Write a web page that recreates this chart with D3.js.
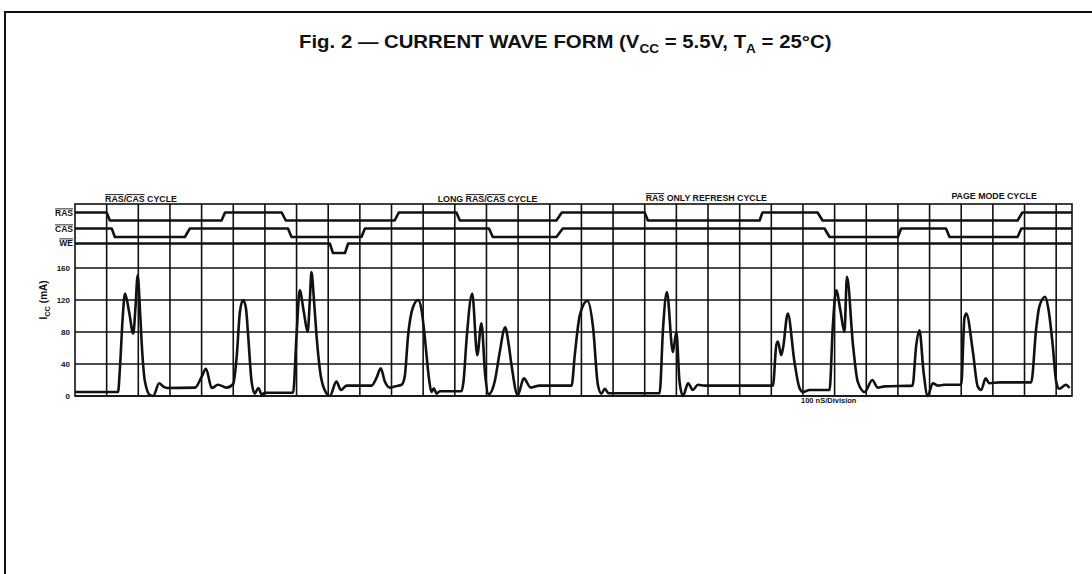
<!DOCTYPE html>
<html lang="en">
<head>
<meta charset="utf-8">
<style>
  body { margin: 0; background: #fff; }
  svg { display: block; background: #fff; }
  .lbl { font-family: "Liberation Sans", Arial, sans-serif; font-weight: bold; fill: #111; white-space: pre; }
</style>
<script src="https://d3js.org/d3.v7.min.js"></script>
</head>
<body>
<svg width="1092" height="574"></svg>
<script>
// time in ns (100 ns / division), current in mA
var yTicks = [0, 40, 80, 120, 160];
var signals = ["RAS", "CAS", "WE"];

// logic traces: [time, level]
var rasSteps = [[0,1],[100,1],[110,0],[463,0],[474,1],[653,1],[666,0],[1010,0],[1023,1],[1205,1],[1216,0],[1521,0],[1538,1],[1800,1],[1810,0],[2163,0],[2172,1],[2346,1],[2362,0],[2978,0],[2993,1],[3150,1]];
var casSteps = [[0,1],[116,1],[126,0],[347,0],[363,1],[673,1],[684,0],[905,0],[916,1],[1308,1],[1320,0],[1521,0],[1541,1],[2368,1],[2384,0],[2600,0],[2610,1],[2752,1],[2763,0],[2978,0],[2990,1],[3150,1]];
var weSteps = [[0,1],[805,1],[815,0],[853,0],[863,1],[3150,1]];

// supply current Icc: [time, mA]
var icc = [[0,5],[136,5],[142,35],[151,100],[158,128],[171,105],[184,78],[191,110],[198,151],[205,110],[211,64],[221,18],[237,1],[247,0],[266,16],[278,12],[290,10],[379,10.5],[400,24],[414,34],[432,10],[452,14],[479,10.5],[500,15],[511,50],[521,105],[531,120],[540,110],[547,76],[558,18],[568,3],[579,10],[590,2],[600,4],[689,4],[700,76],[710,132],[723,105],[735,80],[742,120],[747,155],[755,120],[763,76],[777,24],[795,3],[805,0],[826,18],[840,7.5],[858,13],[937,13],[953,23],[966,34.6],[979,18],[995,10.5],[1010,12],[1032,14],[1042,25],[1052,74],[1067,110],[1084,120],[1096,105],[1105,74],[1119,20],[1126,5],[1134,9.6],[1142,3],[1153,6],[1221,6],[1228,20],[1237,70],[1255,128],[1271,51],[1284,91],[1296,26],[1307,2],[1326,18],[1342,55],[1359,86],[1370,65],[1379,39],[1399,1],[1418,22],[1440,10.5],[1468,13],[1569,13],[1579,51],[1595,101],[1619,119],[1637,85],[1652,14],[1663,3],[1674,9],[1686,3.4],[1847,3.4],[1858,85],[1870,130],[1889,55],[1900,80],[1910,18],[1921,0],[1937,16],[1952,7.5],[1968,14],[1989,13],[2205,13],[2216,64],[2221,68],[2231,51],[2237,60],[2252,103],[2273,43],[2289,10],[2300,5],[2321,7.5],[2384,7.5],[2394,85],[2405,132],[2419,105],[2431,80],[2439,149],[2458,64],[2473,18],[2495,5],[2519,20],[2536,10.5],[2558,12],[2646,13],[2658,64],[2668,82],[2681,30],[2694,0],[2710,16],[2726,13],[2747,14],[2800,14],[2810,97],[2816,103],[2837,55],[2852,12],[2863,7.5],[2877,22],[2889,16],[2921,17],[3021,17],[3037,85],[3047,112],[3065,124],[3075,110],[3089,64],[3100,18],[3110,9],[3131,14],[3142,10]];

// cycle captions, [text, overlined]
var cycleLabels = [
  [["RAS",1],["/",0],["CAS",1],[" CYCLE",0]],
  [["LONG ",0],["RAS",1],["/",0],["CAS",1],[" CYCLE",0]],
  [["RAS",1],[" ONLY REFRESH CYCLE",0]],
  [["PAGE MODE CYCLE",0]]
];
var cycleStart = [95, 1146, 1803, 2769];
var cycleBase = [202, 202, 201, 198.5];

var svg = d3.select("svg");
var ink = "#111";

var x = d3.scaleLinear().domain([0, 3150]).range([75, 1072]);
var y = d3.scaleLinear().domain([0, 240]).range([396, 204]);

// page frame
svg.append("path").attr("d", "M5,574V12H1092")
  .attr("fill", "none").attr("stroke", ink).attr("stroke-width", 2);

// text with overlined / plain pieces laid end to end
function segText(g, segs, x0, y0, size) {
  var cx = x0;
  segs.forEach(function(s) {
    var t = g.append("text").attr("class", "lbl").attr("x", cx).attr("y", y0)
      .attr("font-size", size).text(s[0]);
    var w = t.node().getComputedTextLength();
    if (s[1]) {
      g.append("line").attr("x1", cx).attr("x2", cx + w)
        .attr("y1", y0 - size * 0.84).attr("y2", y0 - size * 0.84)
        .attr("stroke", ink).attr("stroke-width", 0.9);
    }
    cx += w;
  });
  return cx - x0;
}

// title
var title = svg.append("text").attr("class", "lbl").attr("font-size", 18).attr("y", 48);
title.append("tspan").text("Fig. 2 \u2014 CURRENT WAVE FORM (V");
title.append("tspan").attr("font-size", 12).attr("dy", 5).text("CC");
title.append("tspan").attr("dy", -5).text(" = 5.5V, T");
title.append("tspan").attr("font-size", 12).attr("dy", 5).text("A");
title.append("tspan").attr("dy", -5).text(" = 25\u00B0C)");
var tw = title.node().getComputedTextLength();
title.attr("transform", "translate(299,0) scale(" + (533 / tw) + ",1)");

// grid
var grid = svg.append("g").attr("stroke", ink).attr("stroke-width", 1.6);
grid.selectAll(".v").data(d3.range(100, 3101, 100)).enter().append("line")
  .attr("x1", function(d) { return x(d); }).attr("x2", function(d) { return x(d); })
  .attr("y1", y(240)).attr("y2", y(0));
grid.selectAll(".h").data(yTicks).enter().append("line")
  .attr("x1", x(0)).attr("x2", x(3150))
  .attr("y1", function(d) { return y(d); }).attr("y2", function(d) { return y(d); });
grid.append("rect").attr("x", x(0)).attr("y", y(240))
  .attr("width", x(3150) - x(0)).attr("height", y(0) - y(240)).attr("fill", "none");

// y axis ticks
var yAxis = svg.append("g").attr("transform", "translate(" + x(0) + ",0)")
  .call(d3.axisLeft(y).tickValues(yTicks).tickSize(0).tickPadding(5));
yAxis.select(".domain").remove();
yAxis.selectAll("text").attr("class", "lbl").attr("font-size", 8).attr("fill", ink);

// axis title
var yt = svg.append("text").attr("class", "lbl").attr("font-size", 10)
  .attr("text-anchor", "middle").attr("transform", "translate(47,300) rotate(-90)");
yt.append("tspan").text("I");
yt.append("tspan").attr("font-size", 7.5).attr("dy", 2.5).text("CC");
yt.append("tspan").attr("dy", -2.5).text(" (mA)");

// logic traces
var rows = { RAS: [220.5, 212.5], CAS: [237, 228.5], WE: [253, 243.5] };
var steps = { RAS: rasSteps, CAS: casSteps, WE: weSteps };
var labelBase = { RAS: 216, CAS: 232, WE: 246 };
signals.forEach(function(name) {
  var sy = d3.scaleLinear().domain([0, 1]).range(rows[name]);
  var line = d3.line().x(function(d) { return x(d[0]); }).y(function(d) { return sy(d[1]); });
  svg.append("path").datum(steps[name]).attr("d", line)
    .attr("fill", "none").attr("stroke", ink).attr("stroke-width", 2.6)
    .attr("stroke-linejoin", "round");
  var g = svg.append("g");
  var w = segText(g, [[name, 1]], 0, labelBase[name], 8.5);
  g.attr("transform", "translate(" + (73 - w) + ",0)");
});

// current trace
var iccLine = d3.line().x(function(d) { return x(d[0]); }).y(function(d) { return y(d[1]); })
  .curve(d3.curveMonotoneX);
svg.append("path").datum(icc).attr("d", iccLine)
  .attr("fill", "none").attr("stroke", ink).attr("stroke-width", 2.6)
  .attr("stroke-linejoin", "round");

// cycle captions
cycleLabels.forEach(function(segs, i) {
  segText(svg.append("g"), segs, x(cycleStart[i]), cycleBase[i], 8.8);
});

// time base note
svg.append("text").attr("class", "lbl").attr("font-size", 7.5)
  .attr("x", 801).attr("y", 403).text("100 nS/Division");
</script>
</body>
</html>
